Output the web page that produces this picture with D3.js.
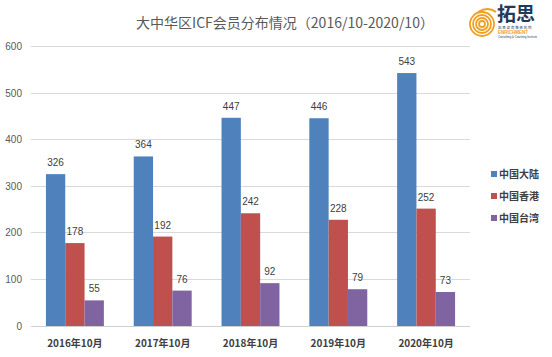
<!DOCTYPE html>
<html><head><meta charset="utf-8">
<script src="https://cdn.jsdelivr.net/npm/d3@7"></script>
<style>body{margin:0;background:#fff}svg{display:block;font-family:"Noto Sans CJK SC","Liberation Sans",sans-serif}</style>
</head><body><svg id="c" width="552" height="357"></svg>
<script>
const categories = ["2016年10月","2017年10月","2018年10月","2019年10月","2020年10月"];
const seriesNames = ["中国大陆","中国香港","中国台湾"];
const mainland = [326,364,447,446,543];
const hongkong = [178,192,242,228,252];
const taiwan = [55,76,92,79,73];
const yTicks = [0,100,200,300,400,500,600];
const colors = ["#4f81bd","#c0504d","#8064a2"];
const series = [mainland, hongkong, taiwan];

const svg = d3.select("#c");
const x = d3.scaleBand().domain(categories).range([31,470]).paddingInner(0.34).paddingOuter(0.17);
const xs = d3.scaleBand().domain(seriesNames).range([0,x.bandwidth()]);
const y = d3.scaleLinear().domain([0,600]).range([326,46.5]);

// gridlines
svg.append("g").selectAll("line").data(yTicks).join("line")
  .attr("x1",31).attr("x2",470).attr("y1",d=>y(d)).attr("y2",d=>y(d))
  .attr("stroke",d=>d===0?"#d0d0d0":"#d9d9d9").attr("stroke-width",1).attr("shape-rendering","crispEdges");
// y labels
svg.append("g").selectAll("text").data(yTicks).join("text")
  .attr("x",22).attr("y",d=>y(d)+3.5).attr("text-anchor","end")
  .attr("font-family","Liberation Sans, Arial, sans-serif")
  .attr("font-size",10).attr("fill","#595959").text(d=>d);

// bars
series.forEach((vals,si)=>{
  const g = svg.append("g");
  g.selectAll("rect").data(vals).join("rect")
    .attr("x",(d,i)=>x(categories[i])+xs(seriesNames[si]))
    .attr("width",xs.bandwidth())
    .attr("y",d=>y(d)).attr("height",d=>y(0)-y(d))
    .attr("fill",colors[si]);
  g.selectAll("text").data(vals).join("text")
    .attr("x",(d,i)=>x(categories[i])+xs(seriesNames[si])+xs.bandwidth()/2)
    .attr("y",d=>y(d)-8).attr("text-anchor","middle")
    .attr("font-family","Liberation Sans, Arial, sans-serif")
    .attr("font-size",10).attr("fill","#404040").text(d=>d);
});

// x labels
svg.append("g").selectAll("text").data(categories).join("text")
  .attr("x",d=>x(d)+x.bandwidth()/2).attr("y",347).attr("text-anchor","middle")
  .attr("font-size",10).attr("font-weight","bold").attr("fill","#404040").text(d=>d);

// legend
const lg = svg.append("g").selectAll("g").data(seriesNames).join("g")
  .attr("transform",(d,i)=>`translate(491,${174+i*22})`);
lg.append("rect").attr("x",0).attr("y",-3).attr("width",6).attr("height",6).attr("fill",(d,i)=>colors[i]);
lg.append("text").attr("x",8).attr("y",4).attr("font-size",10).attr("font-weight","bold").attr("fill","#404040").text(d=>d);

// title
svg.append("text").attr("x",285).attr("y",28).attr("text-anchor","middle")
  .attr("font-size",14).attr("fill","#595959").text("大中华区ICF会员分布情况（2016/10-2020/10）");

// logo (approximation)
const logo = svg.append("g").attr("transform","translate(482,24)");
logo.append("rect").attr("x",-14).attr("y",-24).attr("width",84).attr("height",46).attr("fill","#fff");
[12,9,6,3].forEach(r=>logo.append("circle").attr("r",r).attr("fill","none").attr("stroke","#f0a020").attr("stroke-width",1.8));
logo.append("path").attr("d","M-4,-12 Q6,-18 14,-12").attr("fill","none").attr("stroke","#f0a020").attr("stroke-width",2);
logo.append("text").attr("x",15).attr("y",-3).attr("font-size",19).attr("font-weight","bold").attr("fill","#1f3a5a").text("拓思");
logo.append("text").attr("x",16).attr("y",5).attr("font-size",3.5).attr("fill","#1f3a5a").text("拓 思 咨 询 教 练 机 构");
logo.append("text").attr("x",16).attr("y",10).attr("font-size",4.5).attr("font-weight","bold").attr("fill","#f0a020").attr("font-family","Liberation Sans").text("ENRICHMENT");
logo.append("text").attr("x",16).attr("y",14).attr("font-size",2.8).attr("fill","#1f3a5a").attr("font-family","Liberation Sans").text("Consulting & Coaching Institute");
</script></body></html>
